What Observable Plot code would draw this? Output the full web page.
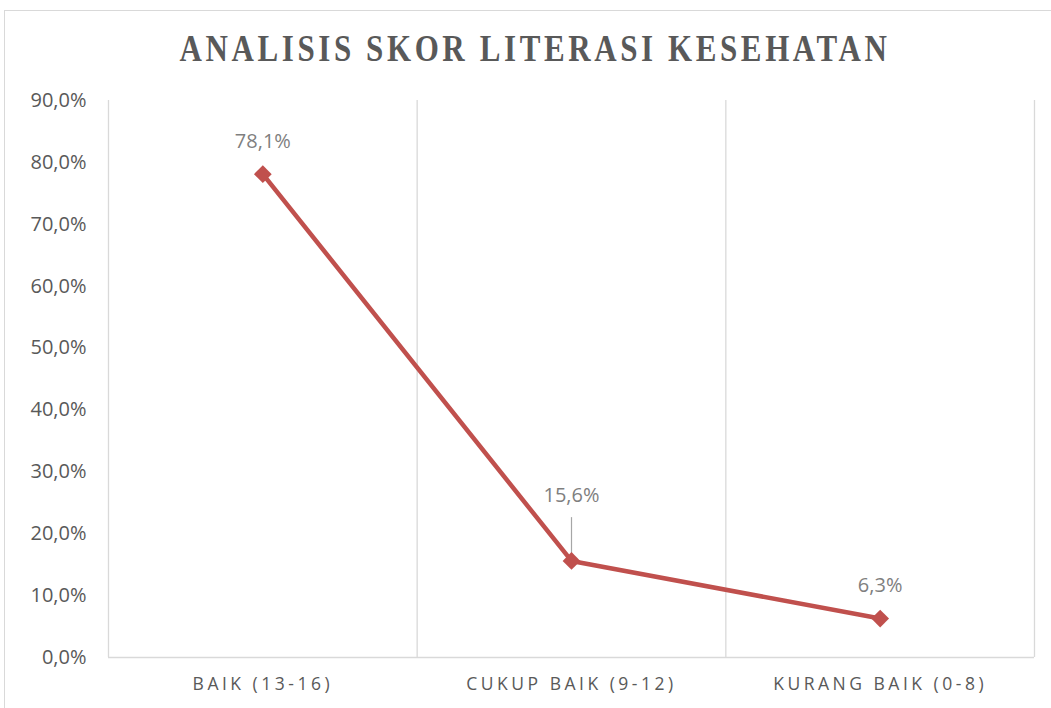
<!DOCTYPE html>
<html>
<head>
<meta charset="utf-8">
<script src="https://cdn.jsdelivr.net/npm/d3@7"></script>
<script src="https://cdn.jsdelivr.net/npm/@observablehq/plot@0.6"></script>
<style>
  html, body { margin: 0; padding: 0; background: #fff; }
  #wrap { position: relative; width: 1051px; height: 708px; overflow: hidden; }
  #frame { position: absolute; left: 4px; top: 10px; width: 1100px; height: 760px; border: 1px solid #d9d9d9; box-sizing: border-box; }
  #title { position: absolute; left: 0; top: 30px; width: 1070px; text-align: center;
    font-family: "Liberation Serif", "DejaVu Serif", serif; font-weight: bold; font-size: 31px;
    letter-spacing: 3.6px; color: #595959; transform: scaleY(1.2); transform-origin: center top; line-height: 1; z-index: 2; }
  #chart { position: absolute; left: 0; top: 70px; }
  #chart svg g[aria-label="x-axis tick label"] text { letter-spacing: 3.5px; }
</style>
</head>
<body>
<div id="wrap">
  <div id="frame"></div>
  <div id="chart"></div>
  <div id="title">ANALISIS SKOR LITERASI KESEHATAN</div>
</div>
<script>
const categories = ["BAIK (13-16)", "CUKUP BAIK (9-12)", "KURANG BAIK (0-8)"];
const values = [78.1, 15.6, 6.3];
const labels = ["78,1%", "15,6%", "6,3%"];
const yTicks = [0, 10, 20, 30, 40, 50, 60, 70, 80, 90];

const data = categories.map((c, i) => ({i, c, v: values[i], label: labels[i]}));
const bounds = d3.range(categories.length + 1).map(i => i - 0.5);
const fmt = v => v.toFixed(1).replace(".", ",") + "%";
const lineColor = "#C0504D";
const gridColor = "#d9d9d9";

const plot = Plot.plot({
  width: 1051,
  height: 638,
  marginTop: 30,
  marginBottom: 51,
  marginLeft: 108,
  marginRight: 17,
  style: {fontFamily: "'Open Sans', sans-serif", background: "transparent"},
  x: {domain: [-0.5, categories.length - 0.5]},
  y: {domain: [0, 90]},
  marks: [
    Plot.ruleX(bounds, {x: d => d, y1: 0, y2: 90, stroke: gridColor, strokeWidth: 1.3}),
    Plot.ruleY([0], {stroke: gridColor, strokeWidth: 1.3}),
    Plot.axisY({ticks: yTicks, tickFormat: fmt, tickSize: 0, tickPadding: 22, fontSize: 20, fill: "#595959", label: null}),
    Plot.axisX({ticks: d3.range(categories.length), tickFormat: i => categories[i], tickSize: 0, tickPadding: 20, fontSize: 17.5, fill: "#595959", label: null}),
    Plot.ruleX([data[1]], {x: "i", y1: d => d.v, y2: d => d.v + 7, stroke: "#a6a6a6", strokeWidth: 1.2}),
    Plot.line(data, {x: "i", y: "v", stroke: lineColor, strokeWidth: 4.5}),
    Plot.dot(data, {x: "i", y: "v", symbol: "diamond2", r: 8, fill: lineColor, stroke: "none"}),
    Plot.text(data, {x: "i", y: "v", text: "label", fontSize: 20, fill: "#7f7f7f", filter: d => d.i !== 1, dy: -33}),
    Plot.text(data, {x: "i", y: "v", text: "label", fontSize: 20, fill: "#7f7f7f", filter: d => d.i === 1, dy: -65})
  ]
});
document.getElementById("chart").appendChild(plot);
</script>
</body>
</html>
